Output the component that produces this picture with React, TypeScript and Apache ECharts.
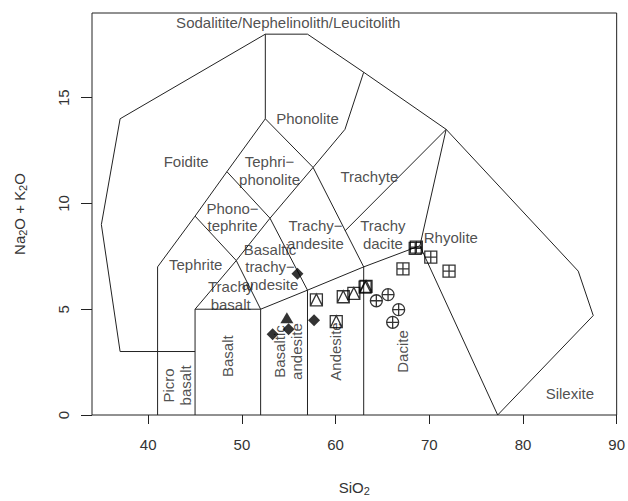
import React, { useEffect, useRef } from "react";
import * as echarts from "echarts";

// Axis ticks
const xTicks = [40, 50, 60, 70, 80, 90];
const yTicks = [0, 5, 10, 15];

// TAS field boundaries [SiO2, Na2O+K2O]
const outerBoundary = [[41, 3], [37, 3], [35, 9], [37, 14], [52.5, 18], [57, 18], [63, 16.2], [71.8, 13.5], [85.9, 6.8], [87.5, 4.7], [77.3, 0]];
const foiditeBoundary = [[41, 0], [41, 7], [45, 9.4], [48.4, 11.5], [52.5, 14], [52.5, 18]];
const picroTop = [[41, 3], [45, 3]];
const basaltBox = [[45, 0], [45, 5], [52, 5], [52, 0]];
const subalkalineTop = [[52, 5], [57, 5.9], [63, 7], [69, 8]];
const andesiteLeft = [[57, 0], [57, 5.9]];
const andesiteRight = [[63, 0], [63, 7]];
const trachybasaltTop = [[45, 5], [49.4, 7.3], [52, 5]];
const phonotephriteLine = [[45, 9.4], [49.4, 7.3], [53, 9.3], [57.6, 11.7], [61, 13.5], [63, 16.2]];
const tephriphonoliteLine = [[48.4, 11.5], [53, 9.3], [57, 5.9]];
const phonoliteLine = [[52.5, 14], [57.6, 11.7], [63, 7]];
const trachyteLine = [[61, 8.7], [71.8, 13.5]];
const rhyoliteLine = [[77.3, 0], [69, 8], [71.8, 13.5]];

const boundaries = [outerBoundary, foiditeBoundary, picroTop, basaltBox, subalkalineTop, andesiteLeft, andesiteRight, trachybasaltTop, phonotephriteLine, tephriphonoliteLine, phonoliteLine, trachyteLine, rhyoliteLine];

// Samples
const diamonds = [[55.93, 6.68], [57.7, 4.48], [54.98, 4.05], [53.28, 3.82]];
const triangles = [[54.8, 4.6]];
const squareTriangles = [[57.95, 5.44], [60.07, 4.41], [60.82, 5.59], [61.95, 5.75], [63.15, 6.04], [63.25, 6.08]];
const circlePlus = [[64.35, 5.4], [65.6, 5.69], [66.73, 4.98], [66.09, 4.38]];
const squarePlus = [[68.5, 7.88], [68.62, 7.93], [70.16, 7.46], [67.19, 6.91], [72.11, 6.8]];

// Field names
const fieldLabels: [number, number, string][] = [
  [54.95, 18.55, "Sodalitite/Nephelinolith/Leucitolith"],
  [57.0, 14.0, "Phonolite"],
  [44.05, 12.0, "Foidite"],
  [52.95, 11.55, "Tephri\u2212\nphonolite"],
  [63.6, 11.26, "Trachyte"],
  [49.0, 9.35, "Phono\u2212\ntephrite"],
  [57.85, 8.53, "Trachy\u2212\nandesite"],
  [65.05, 8.52, "Trachy\ndacite"],
  [72.3, 8.38, "Rhyolite"],
  [53.0, 7.0, "Basaltic\ntrachy\u2212\nandesite"],
  [45.07, 7.1, "Tephrite"],
  [48.8, 5.65, "Trachy\nbasalt"],
  [85.0, 1.0, "Silexite"],
];
const verticalFieldLabels: [number, number, string][] = [
  [43.05, 1.4, "Picro\nbasalt"],
  [48.5, 2.78, "Basalt"],
  [54.9, 3.0, "Basaltic\nandesite"],
  [60.0, 3.0, "Andesite"],
  [67.1, 3.0, "Dacite"],
];

const FONT = "'Liberation Sans', Arial, Helvetica, sans-serif";
const LINE = "#222";

const SQ_TRI = "path://M0,0 L12,0 L12,12 L0,12 Z M0,12 L6,0 L12,12";
const SQ_PLUS = "path://M0,0 L12,0 L12,12 L0,12 Z M6,0 L6,12 M0,6 L12,6";
const CIRC_PLUS = "path://M0,6 A6,6 0 1,1 12,6 A6,6 0 1,1 0,6 Z M6,0 L6,12 M0,6 L12,6";

export default function App() {
  const ref = useRef<HTMLDivElement>(null);
  useEffect(() => {
    if (!ref.current) return;
    document.body.style.margin = "0";
    const chart = echarts.init(ref.current, undefined, { renderer: "svg", width: 628, height: 501 });
    const lineSeries = boundaries.map((b) => ({
      type: "line",
      data: b,
      symbol: "none",
      silent: true,
      z: 1,
      lineStyle: { color: LINE, width: 1 },
    }));
    const openSym = (sym: string, data: number[][], size: number) => ({
      type: "scatter",
      data,
      symbol: sym,
      symbolSize: size,
      z: 5,
      itemStyle: { color: "rgba(255,255,255,0)", borderColor: "#000", borderWidth: 1.3 },
    });
    const textSeries = (labels: [number, number, string][], rotate: number) => ({
      type: "scatter",
      silent: true,
      z: 3,
      symbolSize: 1,
      itemStyle: { color: "rgba(0,0,0,0)" },
      data: labels.map((l) => ({ value: [l[0], l[1]], name: l[2] })),
      label: {
        show: true,
        position: "inside",
        formatter: "{b}",
        rotate,
        fontFamily: FONT,
        fontSize: 15,
        lineHeight: 17.5,
        color: "#222",
        align: "center",
        verticalAlign: "middle",
      },
    });
    chart.setOption({
      animation: false,
      backgroundColor: "#fff",
      grid: { left: 92, width: 527, top: 13, height: 411, show: true, borderColor: "#222", borderWidth: 1, backgroundColor: "transparent" },
      xAxis: {
        type: "value",
        min: 34,
        max: 90,
        axisLine: { show: false },
        splitLine: { show: false },
        axisTick: { show: true, length: 9, customValues: xTicks, lineStyle: { color: "#222" } },
        axisLabel: { customValues: xTicks, fontFamily: FONT, fontSize: 15, color: "#333", margin: 22 },
        name: "{a|SiO}{s|2}",
        nameLocation: "middle",
        nameGap: 63,
        nameTextStyle: {
          rich: {
            a: { fontFamily: FONT, fontSize: 15, color: "#333", lineHeight: 18 },
            s: { fontFamily: FONT, fontSize: 11, color: "#333", lineHeight: 18, verticalAlign: "bottom" },
          },
        },
      },
      yAxis: {
        type: "value",
        min: 0,
        max: 19,
        axisLine: { show: false },
        splitLine: { show: false },
        axisTick: { show: true, length: 11, customValues: yTicks, lineStyle: { color: "#222" } },
        axisLabel: { customValues: yTicks, rotate: 90, fontFamily: FONT, fontSize: 15, color: "#333", margin: 21 },
        name: "{a|Na}{s|2}{a|O + K}{s|2}{a|O}",
        nameLocation: "middle",
        nameRotate: 90,
        nameGap: 64,
        nameTextStyle: {
          rich: {
            a: { fontFamily: FONT, fontSize: 15, color: "#333", lineHeight: 18 },
            s: { fontFamily: FONT, fontSize: 11, color: "#333", lineHeight: 18, verticalAlign: "bottom" },
          },
        },
      },
      series: [
        ...lineSeries,
        textSeries(fieldLabels, 0),
        textSeries(verticalFieldLabels, 90),
        { type: "scatter", data: diamonds, symbol: "diamond", symbolSize: [12, 12], z: 5, itemStyle: { color: "#000" } },
        { type: "scatter", data: triangles, symbol: "triangle", symbolSize: [13, 11], z: 5, itemStyle: { color: "#000" } },
        openSym(SQ_TRI, squareTriangles, 12),
        openSym(CIRC_PLUS, circlePlus, 12),
        openSym(SQ_PLUS, squarePlus, 12),
      ],
    });
    return () => chart.dispose();
  }, []);
  return <div ref={ref} style={{ position: "absolute", left: 0, top: 0, width: 628, height: 501 }} />;
}
